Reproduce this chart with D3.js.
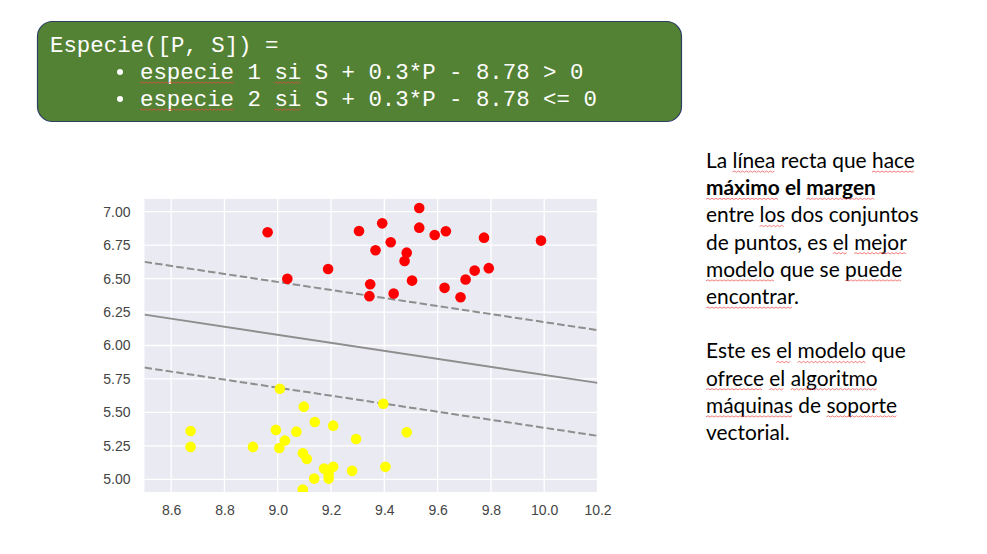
<!DOCTYPE html>
<html lang="es">
  <head>
    <meta charset="utf-8" />
    <title>SVM margen</title>
    <script src="https://cdnjs.cloudflare.com/ajax/libs/d3/7.8.5/d3.min.js"></script>
    <style>
      body {
        margin: 0;
        background: #ffffff;
      }
      .tick-label {
        font-family: "Liberation Sans", Arial, sans-serif;
        font-size: 14px;
        fill: #444444;
      }
    </style>
  </head>
  <body>
    <svg id="slide" width="987" height="554"></svg>
    <script>
      // ticks
      const xTicks = [8.6, 8.8, 9.0, 9.2, 9.4, 9.6, 9.8, 10.0, 10.2];
      const yTicks = [5.0, 5.25, 5.5, 5.75, 6.0, 6.25, 6.5, 6.75, 7.0];

      // species 1 (red) [P, S]
      const redPoints = [
        [8.962, 6.846], [9.036, 6.498], [9.189, 6.572], [9.305, 6.856],
        [9.392, 6.913], [9.531, 7.028], [9.531, 6.881], [9.589, 6.826],
        [9.631, 6.854], [9.774, 6.806], [9.988, 6.784], [9.424, 6.772],
        [9.367, 6.712], [9.484, 6.694], [9.476, 6.632], [9.504, 6.485],
        [9.347, 6.458], [9.344, 6.369], [9.435, 6.388], [9.626, 6.431],
        [9.686, 6.361], [9.705, 6.493], [9.739, 6.56], [9.792, 6.578]
      ];
      // species 2 (yellow) [P, S]
      const yellowPoints = [
        [8.673, 5.361], [8.673, 5.242], [8.907, 5.242], [9.008, 5.677],
        [9.098, 5.543], [8.993, 5.369], [9.027, 5.289], [9.006, 5.234],
        [9.07, 5.356], [9.139, 5.428], [9.208, 5.401], [9.094, 5.194],
        [9.109, 5.152], [9.174, 5.08], [9.208, 5.093], [9.191, 5.035],
        [9.191, 5.005], [9.137, 5.005], [9.094, 4.923], [9.279, 5.063],
        [9.294, 5.301], [9.396, 5.565], [9.484, 5.351], [9.404, 5.093]
      ];

      // frontera: S = 8.78 - 0.3*P, margen +-0.395
      const intercept = 8.78;
      const slope = -0.3;
      const margin = 0.395;
      const pRange = [8.5, 10.2];
      const sRange = [4.905, 7.095];

      // texts
      const codeLines = [
        [{ t: "Especie([P, S]) =" }],
        [{ t: "especie", u: 1 }, { t: " 1 " }, { t: "si", u: 1 }, { t: " S + 0.3*P - 8.78 > 0" }],
        [{ t: "especie", u: 1 }, { t: " 2 " }, { t: "si", u: 1 }, { t: " S + 0.3*P - 8.78 <= 0" }]
      ];
      const noteLines = [
        [{ t: "La " }, { t: "línea", u: 1 }, { t: " recta que " }, { t: "hace", u: 1 }],
        [{ t: "máximo", u: 1, b: 1 }, { t: " el ", b: 1 }, { t: "margen", u: 1, b: 1 }],
        [{ t: "entre " }, { t: "los", u: 1 }, { t: " dos conjuntos" }],
        [{ t: "de puntos, es " }, { t: "el", u: 1 }, { t: " " }, { t: "mejor", u: 1 }],
        [{ t: "modelo", u: 1 }, { t: " que se " }, { t: "puede", u: 1 }],
        [{ t: "encontrar", u: 1 }, { t: "." }],
        [],
        [{ t: "Este es " }, { t: "el", u: 1 }, { t: " " }, { t: "modelo", u: 1 }, { t: " que" }],
        [{ t: "ofrece", u: 1 }, { t: " " }, { t: "el", u: 1 }, { t: " " }, { t: "algoritmo", u: 1 }],
        [{ t: "máquinas", u: 1 }, { t: " de " }, { t: "soporte", u: 1 }],
        [{ t: "vectorial." }]
      ];

      const svg = d3.select("#slide");

      // wavy spell-check underline
      function squiggle(x0, x1, y) {
        let d = `M${x0},${y}`;
        let up = true;
        for (let x = x0 + 2; x <= x1; x += 2) {
          d += `L${x},${up ? y - 1 : y + 0.3}`;
          up = !up;
        }
        return d;
      }

      function drawLines(g, lines, x, y0, dy, style) {
        lines.forEach((segs, i) => {
          const y = y0 + i * dy;
          const text = g.append("text")
            .attr("x", x)
            .attr("y", y)
            .style("font-family", style.family)
            .style("font-size", style.size + "px")
            .attr("fill", style.color);
          segs.forEach((s) => {
            text.append("tspan")
              .text(s.t)
              .style("font-weight", s.b ? "bold" : null);
          });
          let idx = 0;
          segs.forEach((s) => {
            if (s.u) {
              const node = text.node();
              const a = node.getStartPositionOfChar(idx).x;
              const b = node.getEndPositionOfChar(idx + s.t.length - 1).x;
              g.append("path")
                .attr("d", squiggle(a, b, y + style.uoff))
                .attr("fill", "none")
                .attr("stroke", "#ee4444")
                .attr("stroke-width", 0.7);
            }
            idx += s.t.length;
          });
        });
      }

      // green box
      const box = svg.append("g");
      box.append("rect")
        .attr("x", 37.5)
        .attr("y", 21.5)
        .attr("width", 644)
        .attr("height", 100)
        .attr("rx", 15)
        .attr("fill", "#548235")
        .attr("stroke", "#2f3f5f")
        .attr("stroke-width", 1.2);

      const codeStyle = { family: "'Liberation Mono', 'Courier New', monospace", size: 22.4, color: "#ffffff", uoff: 4 };
      drawLines(box, codeLines.slice(0, 1), 50, 52, 27, codeStyle);
      drawLines(box, codeLines.slice(1), 140, 79, 27, codeStyle);
      [79, 106].forEach((y) => {
        box.append("circle")
          .attr("cx", 120)
          .attr("cy", y - 7)
          .attr("r", 3)
          .attr("fill", "#ffffff");
      });

      // right notes, fit to Calibri-like width
      const notes = svg.append("g");
      const probe = notes.append("text")
        .style("font-family", "Lato, 'Open Sans', sans-serif")
        .style("font-size", "20px")
        .text("La línea recta que hace");
      const w = probe.node().getComputedTextLength();
      probe.remove();
      const noteSize = 20 * 209 / w;
      drawLines(notes, noteLines, 706, 168, 27.2, {
        family: "Lato, 'Open Sans', sans-serif",
        size: noteSize,
        color: "#000000",
        uoff: 4
      });

      // chart
      const plot = { left: 144.5, right: 597.5, top: 199, bottom: 492 };
      const x = d3.scaleLinear().domain(pRange).range([plot.left, plot.right]);
      const y = d3.scaleLinear().domain(sRange).range([plot.bottom, plot.top]);

      const chart = svg.append("g");
      chart.append("rect")
        .attr("x", plot.left)
        .attr("y", plot.top)
        .attr("width", plot.right - plot.left)
        .attr("height", plot.bottom - plot.top)
        .attr("fill", "#eaeaf2");

      svg.append("defs").append("clipPath")
        .attr("id", "clip")
        .append("rect")
        .attr("x", plot.left)
        .attr("y", plot.top)
        .attr("width", plot.right - plot.left)
        .attr("height", plot.bottom - plot.top);

      // grid
      chart.append("g")
        .selectAll("line")
        .data(xTicks)
        .join("line")
        .attr("x1", (d) => x(d))
        .attr("x2", (d) => x(d))
        .attr("y1", plot.top)
        .attr("y2", plot.bottom)
        .attr("stroke", "#ffffff")
        .attr("stroke-width", 1.3);
      chart.append("g")
        .selectAll("line")
        .data(yTicks)
        .join("line")
        .attr("x1", plot.left)
        .attr("x2", plot.right)
        .attr("y1", (d) => y(d))
        .attr("y2", (d) => y(d))
        .attr("stroke", "#ffffff")
        .attr("stroke-width", 1.3);

      // axes labels
      const xAxis = d3.axisBottom(x).tickValues(xTicks).tickSize(0).tickPadding(0)
        .tickFormat(d3.format(".1f"));
      chart.append("g")
        .attr("transform", `translate(0,${plot.bottom + 13})`)
        .call(xAxis)
        .call((g) => g.select(".domain").remove())
        .call((g) => g.selectAll("text").attr("class", "tick-label").attr("fill", null));

      const yAxis = d3.axisLeft(y).tickValues(yTicks).tickSize(0).tickPadding(0)
        .tickFormat(d3.format(".2f"));
      chart.append("g")
        .attr("transform", `translate(${plot.left - 14},0)`)
        .call(yAxis)
        .call((g) => g.select(".domain").remove())
        .call((g) => g.selectAll("text").attr("class", "tick-label").attr("fill", null));

      // decision boundary and margins
      const inner = chart.append("g").attr("clip-path", "url(#clip)");
      const boundary = d3.line().x((d) => x(d[0])).y((d) => y(d[1]));
      [-margin, 0, margin].forEach((m) => {
        const pts = pRange.map((p) => [p, intercept + slope * p + m]);
        inner.append("path")
          .attr("d", boundary(pts))
          .attr("fill", "none")
          .attr("stroke", "#8e8e8e")
          .attr("stroke-width", m === 0 ? 1.8 : 2)
          .attr("stroke-dasharray", m === 0 ? null : "7.5,3.2");
      });

      // points
      inner.append("g")
        .selectAll("circle")
        .data(redPoints)
        .join("circle")
        .attr("cx", (d) => x(d[0]))
        .attr("cy", (d) => y(d[1]))
        .attr("r", 5.3)
        .attr("fill", "#ff0000");
      inner.append("g")
        .selectAll("circle")
        .data(yellowPoints)
        .join("circle")
        .attr("cx", (d) => x(d[0]))
        .attr("cy", (d) => y(d[1]))
        .attr("r", 5.3)
        .attr("fill", "#ffff00");
    </script>
  </body>
</html>
